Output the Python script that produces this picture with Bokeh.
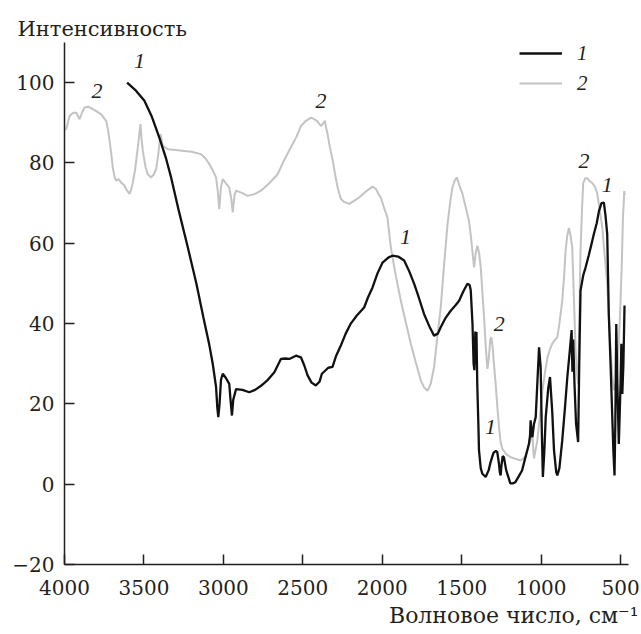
from bokeh.plotting import figure
from bokeh.models import (Range1d, FixedTicker, Title, Legend, LegendItem, ColumnDataSource)
from bokeh.core.properties import value
from bokeh.embed import file_html
from bokeh.resources import INLINE

# ---- data ----
wn1 = [3606, 3550, 3497, 3450, 3403, 3360, 3329, 3280, 3224, 3170, 3126, 3090, 3067, 3046, 3038, 3032,
       3024, 3015, 3004, 2985, 2963, 2955, 2946, 2938, 2920, 2880, 2837, 2800, 2763, 2720, 2679, 2638,
       2610, 2585, 2543, 2512, 2490, 2470, 2445, 2418, 2395, 2380, 2366, 2340, 2313, 2290, 2260, 2230,
       2198, 2160, 2114, 2090, 2061, 2030, 1998, 1960, 1935, 1900, 1862, 1830, 1799, 1770, 1737, 1700,
       1674, 1650, 1632, 1600, 1569, 1540, 1516, 1490, 1464, 1450, 1443, 1432, 1425, 1420, 1414, 1410,
       1407, 1402, 1395, 1391, 1380, 1370, 1349, 1330, 1318, 1300, 1285, 1276, 1265, 1260, 1255, 1250,
       1242, 1234, 1220, 1203, 1194, 1178, 1162, 1140, 1120, 1100, 1077, 1070, 1066, 1060, 1055, 1045,
       1034, 1024, 1013, 1003, 995, 989, 980, 971, 955, 944, 930, 919, 905, 898, 885, 867, 850, 835,
       820, 808, 803, 798, 790, 780, 767, 760, 752, 735, 720, 700, 678, 668, 650, 636, 620, 605, 595,
       584, 574, 563, 552, 545, 538, 533, 527, 520, 511, 505, 500, 495, 489, 482, 475]
int1 = [100, 98, 95.5, 91.5, 86.3, 81, 76.4, 68, 59, 50, 41.6, 35, 30, 24.2, 19, 16.7,
        20, 26, 27.5, 26.5, 25, 21, 17.1, 21, 23.7, 23.5, 22.9, 23.5, 24.5, 26, 27.9, 31.2,
        31.3, 31.2, 32.0, 31.6, 29.5, 27.1, 25.3, 24.6, 25.5, 27.5, 28, 29, 29.2, 32, 34.6, 37.5,
        40, 42, 44, 46.5, 49, 52.5, 55.2, 56.5, 56.9, 56.7, 55.7, 53, 49.9, 46.5, 42.4, 39,
        37.0, 37.5, 39.1, 41.5, 43.2, 44.5, 45.7, 48, 49.9, 49.6, 48.3, 40, 30, 28.4, 38, 30,
        37.9, 25, 15, 8.4, 4, 2.6, 1.8, 3.5, 5.5, 7.8, 8.3, 8.0, 5, 3, 2.2, 4.5,
        7, 6.7, 3.5, 1.4, 0.2, 0.2, 0.5, 2, 3.4, 6.5, 10, 12, 15.9, 13, 11.7, 15,
        16.7, 25, 34.1, 29.1, 12, 1.8, 8, 16.7, 24, 26.7, 18, 8.5, 3, 2.2, 4, 10.9, 19, 26.7,
        33, 38.4, 28, 36, 25, 15, 10.5, 30, 48.2, 52, 54, 57, 60.6, 62.3, 65, 68, 70, 70.1, 67,
        62.3, 42.4, 30, 16.7, 8, 2.2, 15, 39.9, 25, 10, 18, 25, 35, 22.5, 30, 44.5]

wn2 = [3995, 3989, 3968, 3945, 3926, 3905, 3890, 3874, 3850, 3821, 3795, 3769, 3738, 3725, 3716, 3705,
       3696, 3685, 3675, 3660, 3643, 3625, 3612, 3591, 3580, 3570, 3555, 3549, 3535, 3522, 3515, 3507,
       3490, 3476, 3455, 3440, 3423, 3410, 3396, 3382, 3350, 3300, 3245, 3200, 3141, 3110, 3088, 3065,
       3046, 3035, 3026, 3015, 3004, 2985, 2963, 2950, 2941, 2930, 2920, 2880, 2847, 2800, 2763, 2710,
       2658, 2620, 2575, 2540, 2512, 2480, 2449, 2438, 2410, 2386, 2370, 2361, 2352, 2344, 2330, 2311,
       2296, 2281, 2260, 2240, 2208, 2180, 2145, 2100, 2061, 2040, 2020, 2009, 1990, 1967, 1946, 1920,
       1883, 1850, 1820, 1790, 1757, 1735, 1714, 1695, 1674, 1655, 1632, 1610, 1589, 1570, 1558, 1545,
       1531, 1515, 1495, 1475, 1454, 1440, 1430, 1422, 1412, 1401, 1390, 1380, 1370, 1359, 1348, 1338,
       1330, 1320, 1313, 1305, 1295, 1286, 1275, 1265, 1255, 1244, 1220, 1192, 1160, 1129, 1100, 1087,
       1070, 1055, 1050, 1045, 1035, 1024, 1010, 992, 975, 960, 945, 930, 915, 898, 885, 867, 855, 846,
       835, 825, 815, 804, 795, 783, 775, 767, 760, 752, 742, 735, 722, 710, 695, 678, 660, 647, 630,
       615, 600, 584, 573, 563, 552, 542, 530, 521, 510, 500, 492, 485, 480, 477, 474]
int2 = [88.5, 88.4, 91.7, 92.5, 92.5, 90.9, 92.5, 93.8, 94, 93.4, 92.8, 92.1, 90.5, 88, 85.5, 82,
        78.9, 76.5, 75.6, 76, 75.1, 74.5, 73.5, 72.3, 73.5, 75.1, 78.5, 80.5, 85, 89.7, 86, 83,
        79, 77.2, 76.4, 77, 78.5, 82, 87.2, 84.3, 83.4, 83.2, 83.0, 82.8, 82.2, 81, 79.7, 78,
        76.4, 73, 68.5, 74, 76, 75, 73.9, 71, 67.7, 72, 73.1, 72.5, 71.8, 72.3, 73.1, 75,
        77.2, 80.5, 83.9, 86.5, 89.2, 90.5, 91.3, 91.1, 90.5, 89.2, 90, 90.5, 88.5, 87.2, 84, 80.5,
        77, 73.9, 71, 70.3, 69.8, 70.5, 71.4, 73, 74.1, 73.5, 72, 71.4, 69, 66.4, 59, 53,
        45.7, 40, 34.9, 30.5, 25.8, 24, 23.3, 25, 29.1, 36, 44.0, 55, 64.8, 71, 73.9, 75.5,
        76.4, 74.5, 72.3, 69, 65.6, 61, 57, 54, 57.5, 59.4, 57.5, 54, 48, 41.5, 34, 28.7,
        31, 36, 36.6, 34, 29, 25, 19, 14.2, 10.5, 8.8, 7.5, 6.7, 6.3, 5.9, 6.8, 8.4,
        10.5, 12.6, 9, 6.4, 8.5, 10.9, 16, 23.4, 28, 31.6, 33.5, 35, 35.8, 36.6, 40, 45.7, 52, 58.2,
        62, 63.8, 62, 58.9, 48, 33.3, 28, 25, 40, 58.2, 69, 75, 76.2, 76.2, 75.5, 75, 74, 72.5, 68,
        64, 57, 49.9, 41, 33.3, 27, 23.4, 25, 28.4, 36, 45.7, 55, 66.5, 70, 73, 72]

# curve number labels on the chart
label_x = [3528, 3795, 2386, 1853, 1264, 1318, 730, 584]
label_y = [105.4, 98, 95.4, 61.5, 39.9, 14.2, 80.5, 74.6]
label_t = ["1", "2", "2", "1", "2", "1", "2", "1"]

x_ticks = [4000, 3500, 3000, 2500, 2000, 1500, 1000, 500]
y_ticks = [-20, 0, 20, 40, 60, 80, 100]

ink = "#231f20"
gray = "#c3c3c3"
serif = "DejaVu Serif"

p = figure(width=641, height=634, output_backend="svg", toolbar_location=None,
           x_range=Range1d(4000, 450), y_range=Range1d(-20, 110),
           min_border_left=64, min_border_right=13, min_border_top=42, min_border_bottom=70)
p.outline_line_color = None
p.xgrid.grid_line_color = None
p.ygrid.grid_line_color = None
p.background_fill_color = "white"
p.border_fill_color = "white"

for ax in (p.xaxis[0], p.yaxis[0]):
    ax.axis_line_color = ink
    ax.axis_line_width = 1.5
    ax.major_tick_line_color = ink
    ax.major_tick_line_width = 1.5
    ax.major_tick_in = 10
    ax.major_tick_out = 0
    ax.minor_tick_line_color = None
    ax.major_label_text_font = serif
    ax.major_label_text_font_size = "20px"
    ax.major_label_text_color = ink

p.xaxis[0].ticker = FixedTicker(ticks=x_ticks)
p.yaxis[0].ticker = FixedTicker(ticks=y_ticks)
p.yaxis[0].major_label_overrides = {-20: "\u221220"}
p.xaxis[0].major_label_standoff = 15
p.yaxis[0].major_label_standoff = 10

r2 = p.line(wn2, int2, line_color=gray, line_width=2)
r1 = p.line(wn1, int1, line_color="#111111", line_width=2.3)

src = ColumnDataSource(dict(x=label_x, y=label_y, t=label_t))
p.text(x="x", y="y", text="t", source=src, text_font=value("Liberation Serif"),
       text_font_style="italic", text_font_size="22px", text_color=ink,
       text_align="center", text_baseline="middle")

legend = Legend(items=[LegendItem(label="1", renderers=[r1]), LegendItem(label="2", renderers=[r2])],
                location=(455, 466), orientation="vertical",
                glyph_width=43, glyph_height=30, label_height=30,
                spacing=0, padding=0, margin=0,
                label_standoff=15, border_line_color=None, background_fill_alpha=0,
                label_text_font="Liberation Serif", label_text_font_style="italic",
                label_text_font_size="21px", label_text_color=ink)
p.add_layout(legend)

p.add_layout(Title(text="Интенсивность", align="left", offset=-47, standoff=4,
                   text_font=serif, text_font_style="normal", text_font_size="21px",
                   text_color=ink), "above")
p.add_layout(Title(text="Волновое число, см\u207b\u00b9", align="right", offset=-10, standoff=6,
                   text_font=serif, text_font_style="normal", text_font_size="22px",
                   text_color=ink), "below")

open("out.html", "w").write(file_html(p, INLINE))
